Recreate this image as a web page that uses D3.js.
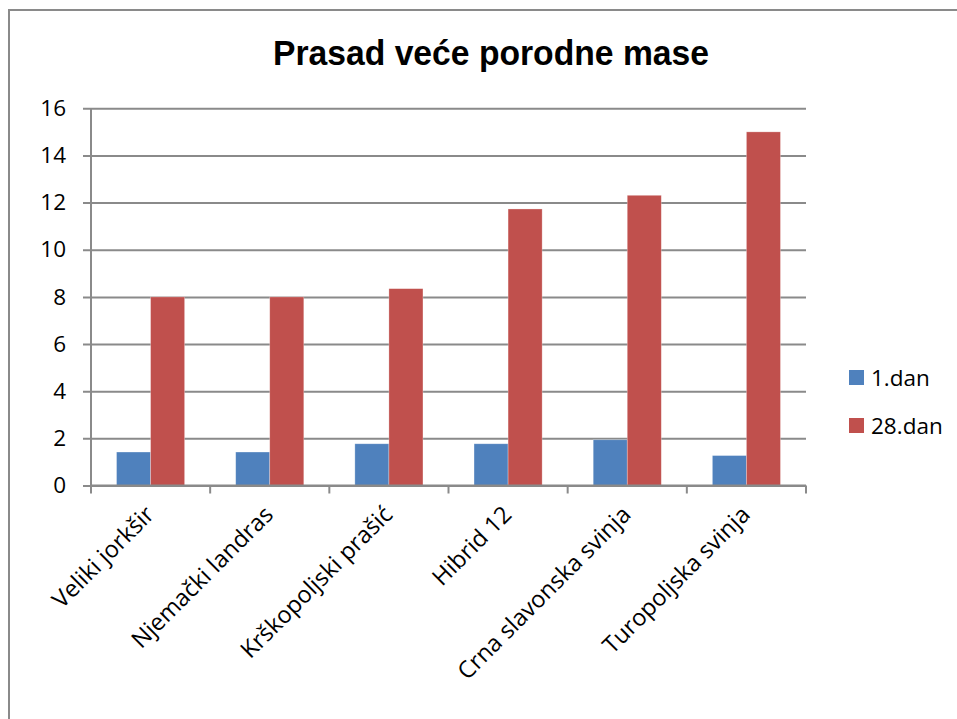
<!DOCTYPE html>
<html>
<head>
<meta charset="utf-8">
<script src="https://cdnjs.cloudflare.com/ajax/libs/d3/7.8.5/d3.min.js"></script>
<style>
  body { margin: 0; background: #fff; }
</style>
</head>
<body>
<div id="chart"></div>
<script>
// data
var categories = ["Veliki jorkšir", "Njemački landras", "Krškopoljski prašić", "Hibrid 12", "Crna slavonska svinja", "Turopoljska svinja"];
var series = ["1.dan", "28.dan"];
var dan1 = [1.42, 1.42, 1.77, 1.77, 1.94, 1.27];
var dan28 = [8.0, 8.0, 8.35, 11.73, 12.31, 15.0];
var yTicks = [0, 2, 4, 6, 8, 10, 12, 14, 16];
var title = "Prasad veće porodne mase";

var colors = { "1.dan": "#4F81BD", "28.dan": "#C0504D" };
var labelFont = "'Open Sans', sans-serif";

var width = 957, height = 719;
var plot = { left: 91, right: 806, top: 108.3, bottom: 485.5 };

var data = categories.map(function(c, i) {
  return { name: c, "1.dan": dan1[i], "28.dan": dan28[i] };
});

var svg = d3.select("#chart")
  .append("svg")
    .attr("width", width)
    .attr("height", height);

// outer frame
svg.append("rect")
  .attr("x", 9).attr("y", 10)
  .attr("width", 980).attr("height", 740)
  .attr("fill", "none")
  .attr("stroke", "#8a8a8a")
  .attr("stroke-width", 2);

// title
svg.append("text")
  .attr("x", 491)
  .attr("y", 65)
  .attr("text-anchor", "middle")
  .attr("textLength", 436)
  .attr("lengthAdjust", "spacingAndGlyphs")
  .style("font-family", "'Liberation Sans', Arial, sans-serif")
  .style("font-weight", "bold")
  .style("font-size", "35px")
  .text(title);

// scales
var x = d3.scaleBand()
  .domain(categories)
  .range([plot.left, plot.right])
  .padding(0);

var x1 = d3.scaleBand()
  .domain(series)
  .range([0, x.bandwidth()])
  .paddingInner(0)
  .paddingOuter(0.75);

var y = d3.scaleLinear()
  .domain([0, 16])
  .range([plot.bottom, plot.top]);

// gridlines + y axis
var yAxis = svg.append("g")
  .attr("transform", "translate(" + plot.left + ",0)")
  .call(d3.axisLeft(y).tickValues(yTicks).tickSize(8).tickPadding(8));
yAxis.select(".domain").remove();
yAxis.selectAll(".tick line")
  .attr("x2", plot.right - plot.left)
  .attr("x1", -8)
  .attr("stroke", "#8a8a8a")
  .attr("stroke-width", 2);
yAxis.selectAll(".tick text")
  .attr("x", -25)
  .style("font-family", labelFont)
  .style("font-size", "22.5px")
  .attr("fill", "#000");

// y axis vertical line
svg.append("line")
  .attr("x1", plot.left).attr("x2", plot.left)
  .attr("y1", plot.top).attr("y2", plot.bottom)
  .attr("stroke", "#8a8a8a")
  .attr("stroke-width", 2);

// bars
svg.append("g")
  .selectAll("g")
  .data(data)
  .enter().append("g")
    .attr("transform", function(d) { return "translate(" + x(d.name) + ",0)"; })
  .selectAll("rect")
  .data(function(d) { return series.map(function(k) { return { key: k, value: d[k] }; }); })
  .enter().append("rect")
    .attr("x", function(d) { return x1(d.key); })
    .attr("y", function(d) { return y(d.value); })
    .attr("width", x1.bandwidth())
    .attr("height", function(d) { return y(0) - y(d.value); })
    .attr("fill", function(d) { return colors[d.key]; })
    .attr("stroke", "#fff")
    .attr("stroke-opacity", 0.4)
    .attr("stroke-width", 0.7);

// x axis with boundary ticks
var xAxis = svg.append("g")
  .attr("transform", "translate(0," + plot.bottom + ")");
xAxis.append("line")
  .attr("x1", plot.left).attr("x2", plot.right)
  .attr("stroke", "#8a8a8a")
  .attr("stroke-width", 2);
xAxis.selectAll(".xtick")
  .data(categories.concat(["end"]))
  .enter().append("line")
    .attr("class", "xtick")
    .attr("x1", function(d) { return d === "end" ? plot.right : x(d); })
    .attr("x2", function(d) { return d === "end" ? plot.right : x(d); })
    .attr("y1", 0).attr("y2", 8)
    .attr("stroke", "#8a8a8a")
    .attr("stroke-width", 2);

// rotated category labels
svg.append("g")
  .selectAll("text")
  .data(categories)
  .enter().append("text")
    .attr("transform", function(d) {
      var cx = x(d) + x.bandwidth() / 2 + 5;
      return "translate(" + cx + ",516) rotate(-45)";
    })
    .attr("text-anchor", "end")
    .style("font-family", labelFont)
    .style("font-size", "23.5px")
    .text(function(d) { return d; });

// legend
var legend = svg.append("g")
  .selectAll("g")
  .data(series)
  .enter().append("g")
    .attr("transform", function(d, i) { return "translate(849," + (370 + i * 48) + ")"; });
legend.append("rect")
  .attr("width", 15).attr("height", 15)
  .attr("fill", function(d) { return colors[d]; });
legend.append("text")
  .attr("x", 22)
  .attr("y", 16)
  .style("font-family", labelFont)
  .style("font-size", "22.5px")
  .text(function(d) { return d; });
</script>
</body>
</html>
